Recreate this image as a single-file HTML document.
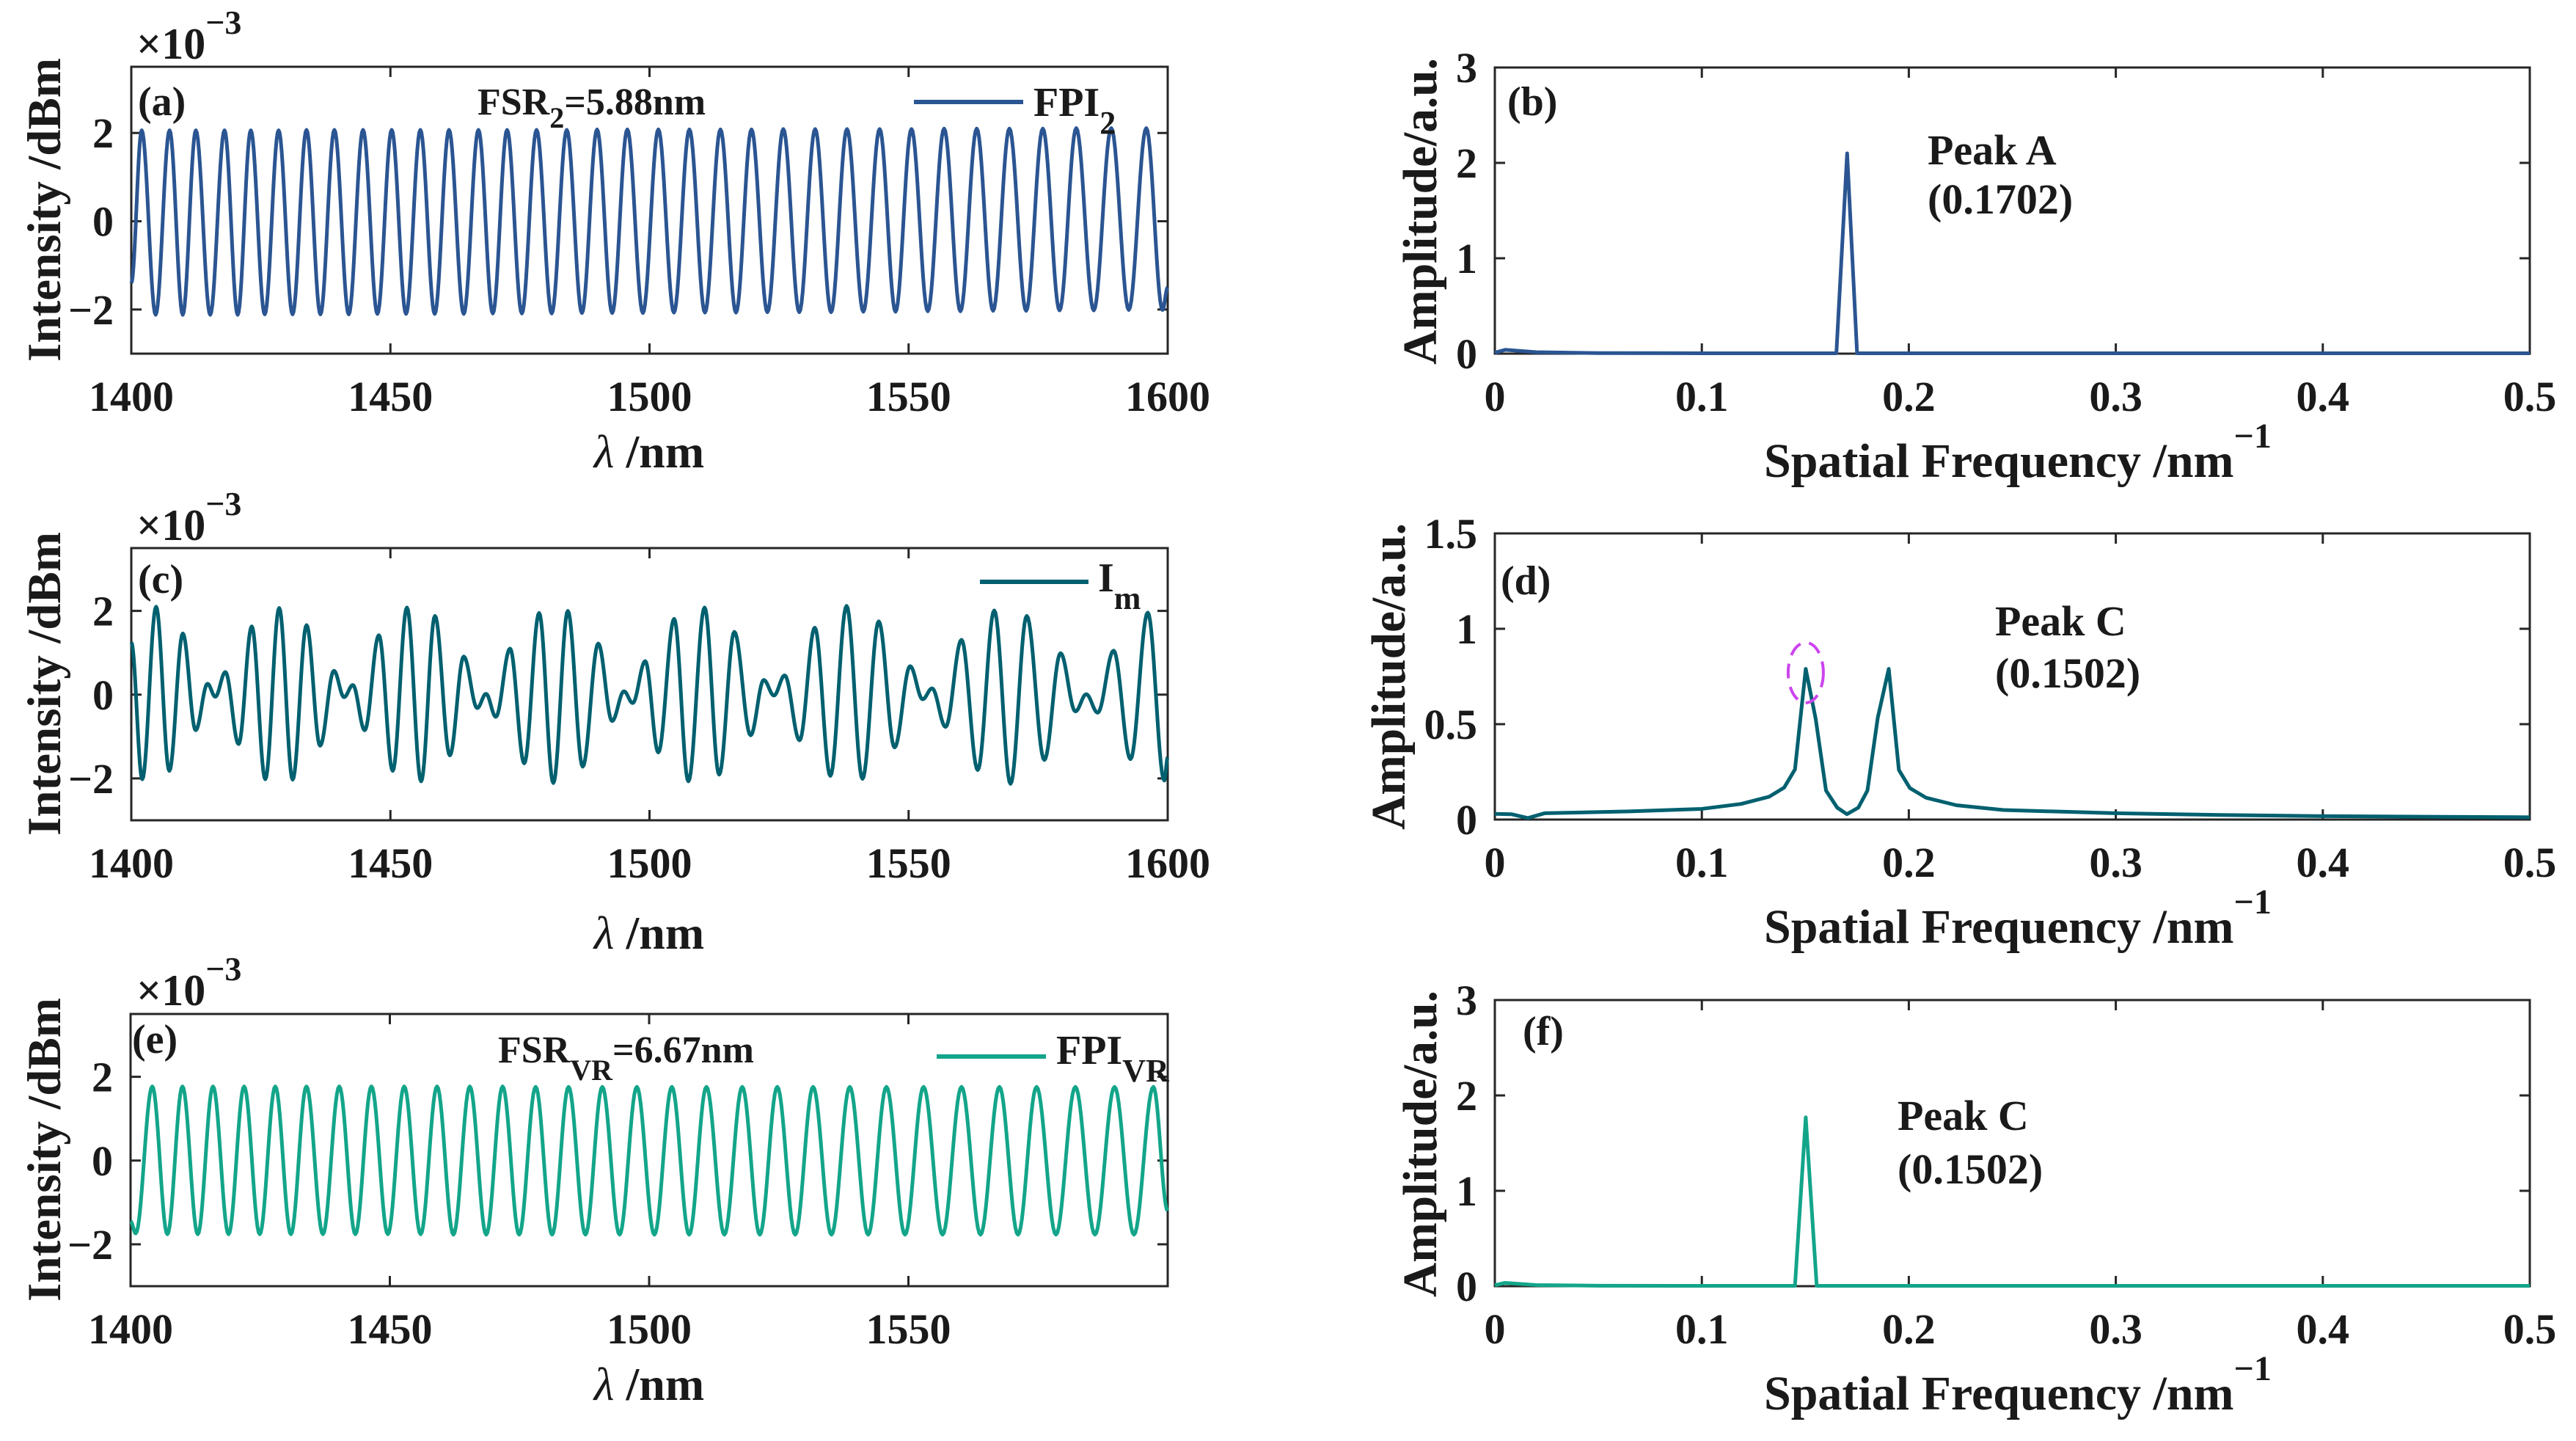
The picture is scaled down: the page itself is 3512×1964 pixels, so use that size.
<!DOCTYPE html>
<html><head><meta charset="utf-8"><title>FPI spectra and spatial frequency</title>
<style>
html,body{margin:0;padding:0;background:#fff;}
svg{display:block;}
text{font-family:"Liberation Serif",serif;font-weight:bold;fill:#1a1a1a;}
</style></head>
<body>
<svg id="fig" xmlns="http://www.w3.org/2000/svg" width="3512" height="1964" viewBox="0 0 3512 1964" font-family="'Liberation Serif', serif">
<rect x="0" y="0" width="3512" height="1964" fill="#fff"/>
</svg>
<script>
// ---------- data ----------
const aPeakX=[1402.01,1407.39,1412.46,1417.99,1423.06,1428.43,1433.81,1439.19,1444.72,1450.25,1455.78,1461.31,1466.99,1472.52,1478.21,1484.04,1489.88,1495.72,1501.71,1507.70,1513.69,1519.68,1525.82,1531.97,1538.11,1544.41,1550.55,1556.85,1563.15,1569.45,1575.90,1582.35,1589.11,1595.87];
const aPeakY=[2.06,2.06,2.06,2.06,2.06,2.06,2.07,2.07,2.07,2.07,2.07,2.07,2.07,2.07,2.07,2.07,2.08,2.08,2.08,2.08,2.08,2.08,2.09,2.09,2.09,2.09,2.09,2.10,2.10,2.10,2.10,2.11,2.11,2.11];
const aTroughX=[1404.70,1409.93,1415.23,1420.53,1425.75,1431.12,1436.50,1441.96,1447.49,1453.02,1458.55,1464.15,1469.76,1475.37,1481.13,1486.96,1492.80,1498.72,1504.71,1510.70,1516.69,1522.75,1528.90,1535.04,1541.26,1547.48,1553.70,1560.00,1566.30,1572.68,1579.13,1585.73,1592.49,1599.0];
const aTroughY=[-2.12,-2.12,-2.12,-2.12,-2.11,-2.11,-2.11,-2.11,-2.10,-2.10,-2.10,-2.10,-2.09,-2.09,-2.09,-2.08,-2.08,-2.08,-2.07,-2.07,-2.07,-2.06,-2.06,-2.06,-2.05,-2.05,-2.04,-2.04,-2.03,-2.03,-2.02,-2.02,-2.01,-2.01];
const aEnds=[[1400,-1.4],[1600,-1.5]];

const cExtX=[1400,1402.12,1404.79,1407.34,1409.94,1412.42,1414.71,1416.21,1418.16,1420.71,1423.25,1425.86,1428.54,1431.14,1433.82,1436.43,1439.10,1441.06,1442.76,1445.04,1447.78,1450.45,1453.19,1455.93,1458.60,1461.47,1464.15,1466.76,1468.45,1470.35,1473.09,1475.83,1478.70,1481.44,1484.24,1487.11,1490.11,1492.78,1495.07,1496.76,1499.18,1501.70,1504.76,1507.50,1510.63,1513.44,1516.37,1519.51,1522.05,1524.01,1526.09,1528.96,1531.90,1534.90,1538.03,1541.10,1544.23,1547.29,1550.29,1552.71,1554.53,1557.14,1560.21,1563.34,1566.53,1569.67,1572.80,1576.19,1579.32,1582.19,1584.28,1586.49,1589.56,1592.82,1596.15,1599.34,1600];
const cExtY=[1.25,-2.02,2.1,-1.82,1.46,-0.85,0.26,-0.05,0.54,-1.18,1.63,-2.02,2.07,-2.03,1.66,-1.22,0.57,-0.06,0.23,-0.85,1.42,-1.82,2.08,-2.07,1.88,-1.45,0.91,-0.32,0.02,-0.53,1.1,-1.64,1.95,-2.11,2.0,-1.72,1.22,-0.63,0.08,-0.2,0.8,-1.38,1.81,-2.07,2.08,-1.91,1.5,-0.97,0.35,-0.02,0.46,-1.09,1.6,-1.94,2.12,-2.01,1.75,-1.26,0.68,-0.11,0.15,-0.77,1.31,-1.8,2.01,-2.13,1.88,-1.56,0.99,-0.4,0.01,-0.43,1.05,-1.54,1.96,-2.05,-1.5];

const ePeakX=[1404.19,1410.01,1415.90,1421.90,1427.91,1433.92,1440.25,1446.45,1452.77,1459.10,1465.42,1471.75,1478.12,1484.46,1490.97,1497.63,1504.38,1511.05,1517.96,1524.71,1531.62,1538.69,1545.76,1552.92,1560.24,1567.55,1574.71,1582.19,1589.75,1597.23];
const ePeakY=[1.77,1.77,1.77,1.77,1.77,1.77,1.77,1.77,1.77,1.77,1.77,1.77,1.76,1.76,1.76,1.76,1.76,1.76,1.76,1.76,1.76,1.76,1.76,1.76,1.76,1.76,1.76,1.76,1.76,1.76];
const eTroughX=[1401.0,1407.10,1412.96,1418.90,1424.91,1430.92,1437.09,1443.35,1449.61,1455.94,1462.26,1468.59,1474.94,1481.29,1487.72,1494.30,1501.01,1507.72,1514.51,1521.34,1528.17,1535.16,1542.23,1549.34,1556.58,1563.90,1571.13,1578.45,1585.97,1593.49];
const eTroughY=[-1.74,-1.76,-1.76,-1.76,-1.76,-1.76,-1.76,-1.76,-1.76,-1.76,-1.77,-1.77,-1.77,-1.77,-1.77,-1.77,-1.77,-1.77,-1.77,-1.77,-1.77,-1.77,-1.77,-1.77,-1.77,-1.77,-1.77,-1.77,-1.77,-1.77];
const eEnds=[[1400,-1.45],[1600,-1.2]];

const bFreq=[0,0.005,0.02,0.05,0.1,0.165,0.1702,0.175,0.3,0.5];
const bAmp=[0.01,0.04,0.015,0.006,0.004,0.004,2.1,0.004,0.004,0.004];
const dFreq=[0,0.008,0.016,0.024,0.065,0.1,0.119,0.1326,0.1398,0.145,0.1502,0.155,0.160,0.1654,0.1701,0.1756,0.180,0.185,0.1903,0.1952,0.2005,0.2084,0.223,0.2457,0.3,0.35,0.4,0.5];
const dAmp=[0.03,0.028,0.008,0.033,0.043,0.056,0.082,0.12,0.168,0.263,0.79,0.528,0.152,0.0625,0.028,0.0625,0.152,0.534,0.79,0.26,0.165,0.114,0.075,0.05,0.033,0.024,0.018,0.012];
const fFreq=[0,0.005,0.02,0.05,0.1,0.145,0.1502,0.1555,0.3,0.5];
const fAmp=[0.01,0.035,0.012,0.005,0.004,0.004,1.77,0.004,0.004,0.004];

const wlTicks=[1400,1450,1500,1550,1600];
const wlTicksE=[1400,1450,1500,1550];
const wlTickLabels=['1400','1450','1500','1550','1600'];
const intTicks=[-2,0,2];
const intTickLabels=['\u22122','0','2'];
const sfTicks=[0,0.1,0.2,0.3,0.4,0.5];
const sfTickLabels=['0','0.1','0.2','0.3','0.4','0.5'];
const ampTicks3=[0,1,2,3];
const ampTickLabels3=['0','1','2','3'];
const ampTicksD=[0,0.5,1,1.5];
const ampTickLabelsD=['0','0.5','1','1.5'];

// ---------- helpers ----------
const NS='http://www.w3.org/2000/svg';
const svg=document.getElementById('fig');
function mk(tag,attrs,parent){const e=document.createElementNS(NS,tag);for(const k in attrs)e.setAttribute(k,attrs[k]);(parent||svg).appendChild(e);return e;}
function axes(p){return {X:v=>p.x0+(v-p.xmin)/(p.xmax-p.xmin)*(p.x1-p.x0),Y:v=>p.y1-(v-p.ymin)/(p.ymax-p.ymin)*(p.y1-p.y0)};}

function drawFrame(p,name,xt,xl,yt,yl,yLabelRight){
  const g=mk('g',{});
  
  
  const A=axes(p);
  const fr=mk('rect',{x:p.x0,y:p.y0,width:p.x1-p.x0,height:p.y1-p.y0,fill:'none',stroke:'#262626','stroke-width':3},g);
  
  
  xt.forEach((v,i)=>{
    const x=A.X(v);
    mk('line',{x1:x,x2:x,y1:p.y1,y2:p.y1-14,stroke:'#262626','stroke-width':3},g);
    mk('line',{x1:x,x2:x,y1:p.y0,y2:p.y0+14,stroke:'#262626','stroke-width':3},g);
    const t=mk('text',{x:x,y:p.y1+78,'text-anchor':'middle','font-size':58},g);
    t.textContent=xl[i];
    
    
  });
  yt.forEach((v,i)=>{
    const y=A.Y(v);
    mk('line',{x1:p.x0,x2:p.x0+14,y1:y,y2:y,stroke:'#262626','stroke-width':3},g);
    mk('line',{x1:p.x1,x2:p.x1-14,y1:y,y2:y,stroke:'#262626','stroke-width':3},g);
    const t=mk('text',{x:p.x0-(yLabelRight||24),y:y+20,'text-anchor':'end','font-size':58},g);
    t.textContent=yl[i];
    
    
  });
  return A;
}
function cosPath(xs,ys,A){
  let d='';
  for(let i=0;i<xs.length-1;i++){
    const x0=xs[i],x1=xs[i+1],y0=ys[i],y1=ys[i+1];
    const n=14;
    for(let k=(i===0?0:1);k<=n;k++){
      const t=k/n,x=x0+(x1-x0)*t,y=y0+(y1-y0)*(1-Math.cos(Math.PI*t))/2;
      d+=(d?'L':'M')+A.X(x).toFixed(2)+','+A.Y(y).toFixed(2);
    }
  }
  return d;
}
function mergeExt(px,py,tx,ty,ends){
  const pts=[ends[0]];
  px.forEach((x,i)=>pts.push([x,py[i]]));
  tx.forEach((x,i)=>pts.push([x,ty[i]]));
  pts.push(ends[1]);
  pts.sort((a,b)=>a[0]-b[0]);
  return [pts.map(p=>p[0]),pts.map(p=>p[1])];
}
function linPath(xs,ys,A){return xs.map((x,i)=>(i?'L':'M')+A.X(x).toFixed(2)+','+A.Y(ys[i]).toFixed(2)).join('');}
function txt(x,y,size,str,name,attrs){
  const t=mk('text',Object.assign({x:x,y:y,'font-size':size},attrs||{}));
  t.innerHTML=str;
  
  
  return t;
}

// ---------- panel geometry ----------
const PA={x0:179,x1:1592,y0:91,y1:482,xmin:1400,xmax:1600,ymin:-3,ymax:3.5};
const PC={x0:179,x1:1592,y0:747,y1:1118,xmin:1400,xmax:1600,ymin:-3,ymax:3.5};
const PE={x0:178,x1:1592,y0:1382,y1:1753,xmin:1400,xmax:1600,ymin:-3,ymax:3.5};
const PB={x0:2038,x1:3449,y0:92,y1:482,xmin:0,xmax:0.5,ymin:0,ymax:3};
const PD={x0:2038,x1:3449,y0:727,y1:1117,xmin:0,xmax:0.5,ymin:0,ymax:1.5};
const PF={x0:2038,x1:3449,y0:1363,y1:1753,xmin:0,xmax:0.5,ymin:0,ymax:3};

const BLUE='#2b5592',TEAL='#00606f',GREEN='#13a58a';

// ---------- panel a ----------
let A=drawFrame(PA,'panel-a',wlTicks,wlTickLabels,intTicks,intTickLabels);
let m=mergeExt(aPeakX,aPeakY,aTroughX,aTroughY,aEnds);
let ln=mk('path',{d:cosPath(m[0],m[1],A),fill:'none',stroke:BLUE,'stroke-width':5,'stroke-linejoin':'round'});


// ---------- panel c ----------
A=drawFrame(PC,'panel-c',wlTicks,wlTickLabels,intTicks,intTickLabels);
ln=mk('path',{d:cosPath(cExtX,cExtY,A),fill:'none',stroke:TEAL,'stroke-width':5,'stroke-linejoin':'round'});


// ---------- panel e ----------
A=drawFrame(PE,'panel-e',wlTicksE,wlTickLabels,intTicks,intTickLabels);
m=mergeExt(ePeakX,ePeakY,eTroughX,eTroughY,eEnds);
ln=mk('path',{d:cosPath(m[0],m[1],A),fill:'none',stroke:GREEN,'stroke-width':5,'stroke-linejoin':'round'});


// ---------- panel b ----------
A=drawFrame(PB,'panel-b',sfTicks,sfTickLabels,ampTicks3,ampTickLabels3);
ln=mk('path',{d:linPath(bFreq,bAmp,A),fill:'none',stroke:BLUE,'stroke-width':5,'stroke-linejoin':'round'});


// ---------- panel d ----------
A=drawFrame(PD,'panel-d',sfTicks,sfTickLabels,ampTicksD,ampTickLabelsD);
ln=mk('path',{d:linPath(dFreq,dAmp,A),fill:'none',stroke:TEAL,'stroke-width':5,'stroke-linejoin':'round'});


const el=mk('ellipse',{cx:A.X(0.1502),cy:A.Y(0.77),rx:24,ry:41,fill:'none',stroke:'#cc44ee','stroke-width':4,'stroke-dasharray':'20 12'});


// ---------- panel f ----------
A=drawFrame(PF,'panel-f',sfTicks,sfTickLabels,ampTicks3,ampTickLabels3);
ln=mk('path',{d:linPath(fFreq,fAmp,A),fill:'none',stroke:GREEN,'stroke-width':5,'stroke-linejoin':'round'});



// ---------- texts ----------
txt(188,157,56,'(a)','panel-label-a');
txt(188,808,56,'(c)','panel-label-c');
txt(180,1435,56,'(e)','panel-label-e');
txt(2055,157,56,'(b)','panel-label-b');
txt(2046,810,56,'(d)','panel-label-d');
txt(2076,1424,56,'(f)','panel-label-f');

[[80,'a'],[736,'c'],[1370,'e']].forEach(v=>{
  txt(186,v[0],60,'\u00d710<tspan font-size="46" dy="-34">\u22123</tspan>','exponent-label-'+v[1],{'font-weight':'normal'});
});

[[637,'a'],[1293,'c'],[1908,'e']].forEach(v=>{
  txt(885,v[0],64,'<tspan font-style="italic" font-weight="normal">\u03bb</tspan> /nm','x-axis-title-'+v[1],{'text-anchor':'middle'});
});
[[286,'a'],[932,'c'],[1567,'e']].forEach(v=>{
  txt(0,0,65,'Intensity /dBm','y-axis-title-'+v[1],{'text-anchor':'middle',textLength:414,lengthAdjust:'spacingAndGlyphs',transform:'translate(82,'+v[0]+') rotate(-90)'});
});
[[650,'b'],[1285,'d'],[1921,'f']].forEach(v=>{
  txt(2405,v[0],66,'Spatial Frequency /nm<tspan font-size="48" dy="-40">\u22121</tspan>','x-axis-title-'+v[1]);
});
[[1958,288,'b'],[1915,922,'d'],[1958,1559,'f']].forEach(v=>{
  txt(0,0,66,'Amplitude/a.u.','y-axis-title-'+v[2],{'text-anchor':'middle',textLength:418,lengthAdjust:'spacingAndGlyphs',transform:'translate('+v[0]+','+v[1]+') rotate(-90)'});
});

txt(651,156,52,'FSR<tspan font-size="40" dy="18">2</tspan><tspan dy="-18">=5.88nm</tspan>','fsr2-annotation');
txt(679,1448,52,'FSR<tspan font-size="40" dy="24">VR</tspan><tspan dy="-24">=6.67nm</tspan>','fsrvr-annotation');
txt(2628,224,58,'Peak A','peak-a-label');
txt(2628,291,58,'(0.1702)','peak-a-value');
txt(2720,866,58,'Peak C','peak-c-label-d');
txt(2720,937,58,'(0.1502)','peak-c-value-d');
txt(2587,1540,58,'Peak C','peak-c-label-f');
txt(2587,1613,58,'(0.1502)','peak-c-value-f');

function legend(x1,x2,y,color,label,tx,ty,name){
  const g=mk('g',{});
  
  
  mk('line',{x1:x1,x2:x2,y1:y,y2:y,stroke:color,'stroke-width':6},g);
  const t=mk('text',{x:tx,y:ty,'font-size':56},g);
  t.innerHTML=label;
}
legend(1246,1395,139,BLUE,'FPI<tspan font-size="44" dy="24">2</tspan>',1409,158,'legend-fpi2');
legend(1336,1484,793,TEAL,'I<tspan font-size="44" dy="24">m</tspan>',1497,806,'legend-im');
legend(1277,1426,1440,GREEN,'FPI<tspan font-size="44" dy="24">VR</tspan>',1440,1450,'legend-fpivr');
</script>
</body></html>
